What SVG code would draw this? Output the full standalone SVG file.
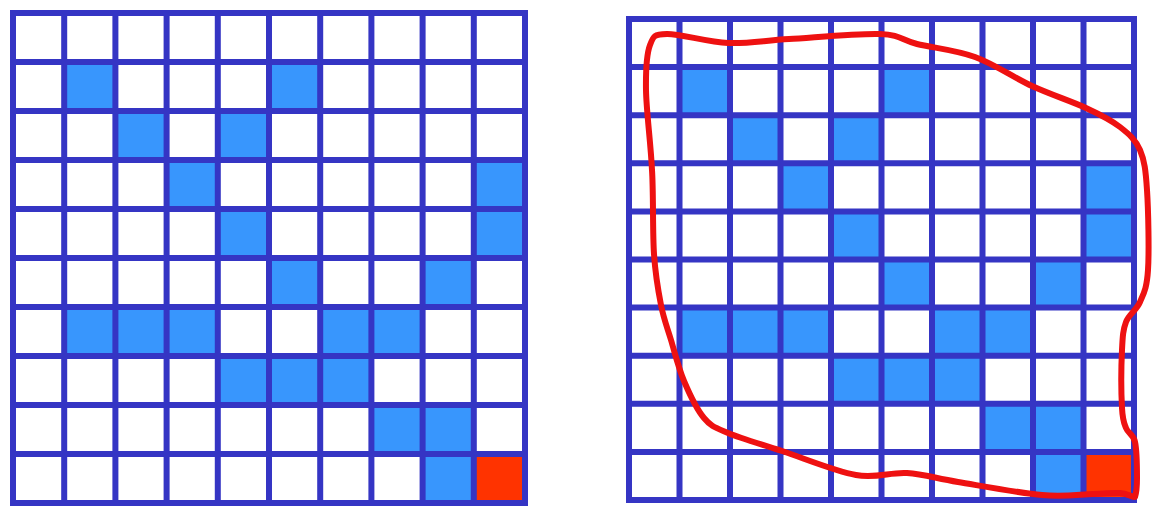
<svg xmlns="http://www.w3.org/2000/svg" width="1159" height="515" viewBox="0 0 1159 515">
<style>
.b{fill:#3896FD}
.r{fill:#FF3300}
.g{fill:none;stroke:#3535C4;stroke-width:6;stroke-linecap:square}
.lasso{fill:none;stroke:#EE1111;stroke-width:6;stroke-linejoin:round;stroke-linecap:round}
</style>
<rect width="1159" height="515" fill="#ffffff"/>
<g id="grid-left">
<rect class="b" x="64.2" y="62" width="51.2" height="49"/>
<rect class="b" x="269" y="62" width="51.2" height="49"/>
<rect class="b" x="115.4" y="111" width="51.2" height="49"/>
<rect class="b" x="217.8" y="111" width="51.2" height="49"/>
<rect class="b" x="166.6" y="160" width="51.2" height="49"/>
<rect class="b" x="473.8" y="160" width="51.2" height="49"/>
<rect class="b" x="217.8" y="209" width="51.2" height="49"/>
<rect class="b" x="473.8" y="209" width="51.2" height="49"/>
<rect class="b" x="269" y="258" width="51.2" height="49"/>
<rect class="b" x="422.6" y="258" width="51.2" height="49"/>
<rect class="b" x="64.2" y="307" width="153.6" height="49"/>
<rect class="b" x="320.2" y="307" width="102.4" height="49"/>
<rect class="b" x="217.8" y="356" width="153.6" height="49"/>
<rect class="b" x="371.4" y="405" width="102.4" height="49"/>
<rect class="b" x="422.6" y="454" width="51.2" height="49"/>
<rect class="r" x="473.8" y="454" width="51.2" height="49"/>
<path class="g" d="M13,13V503M64.2,13V503M115.4,13V503M166.6,13V503M217.8,13V503M269,13V503M320.2,13V503M371.4,13V503M422.6,13V503M473.8,13V503M525,13V503M13,13H525M13,62H525M13,111H525M13,160H525M13,209H525M13,258H525M13,307H525M13,356H525M13,405H525M13,454H525M13,503H525"/>
</g>
<g id="grid-right">
<rect class="b" x="679.5" y="67.1" width="50.5" height="48.1"/>
<rect class="b" x="881.5" y="67.1" width="50.5" height="48.1"/>
<rect class="b" x="730" y="115.2" width="50.5" height="48.1"/>
<rect class="b" x="831" y="115.2" width="50.5" height="48.1"/>
<rect class="b" x="780.5" y="163.3" width="50.5" height="48.1"/>
<rect class="b" x="1083.5" y="163.3" width="50.5" height="48.1"/>
<rect class="b" x="831" y="211.4" width="50.5" height="48.1"/>
<rect class="b" x="1083.5" y="211.4" width="50.5" height="48.1"/>
<rect class="b" x="881.5" y="259.5" width="50.5" height="48.1"/>
<rect class="b" x="1033" y="259.5" width="50.5" height="48.1"/>
<rect class="b" x="679.5" y="307.6" width="151.5" height="48.1"/>
<rect class="b" x="932" y="307.6" width="101" height="48.1"/>
<rect class="b" x="831" y="355.7" width="151.5" height="48.1"/>
<rect class="b" x="982.5" y="403.8" width="101" height="48.1"/>
<rect class="b" x="1033" y="451.9" width="50.5" height="48.1"/>
<rect class="r" x="1083.5" y="451.9" width="50.5" height="48.1"/>
<path class="g" d="M629,19V500M679.5,19V500M730,19V500M780.5,19V500M831,19V500M881.5,19V500M932,19V500M982.5,19V500M1033,19V500M1083.5,19V500M1134,19V500M629,19H1134M629,67.1H1134M629,115.2H1134M629,163.3H1134M629,211.4H1134M629,259.5H1134M629,307.6H1134M629,355.7H1134M629,403.8H1134M629,451.9H1134M629,500H1134"/>
</g>
<g id="connectors">
<path id="lasso" class="lasso" d="M652,170 C650.7,142.7 646.3,110.8 646,90 C645.7,69.2 646.5,54.3 650,45 C653.5,35.7 654,34.3 667,34 C680,33.7 707.7,42.2 728,43 C748.3,43.8 763.7,40.5 789,39 C814.3,37.5 858.7,33.2 880,34 C901.3,34.8 901.2,40.2 917,44 C932.8,47.8 955.8,50 975,57 C994.2,64 1013.5,77.5 1032,86 C1050.5,94.5 1071.3,101.2 1086,108 C1100.7,114.8 1111,120 1120,127 C1129,134 1135.5,139.5 1140,150 C1144.5,160.5 1145.7,170 1147,190 C1148.3,210 1149.2,251.3 1148,270 C1146.8,288.7 1143.7,293.3 1140,302 C1136.3,310.7 1129,314 1126,322 C1123,330 1122.7,335.7 1122,350 C1121.3,364.3 1121.3,395 1122,408 C1122.7,421 1123.8,422.3 1126,428 C1128.2,433.7 1133.2,433.7 1135,442 C1136.8,450.3 1137,468.8 1137,478 C1137,487.2 1136,494 1135,497 C1132,497 1127,493.5 1120,493 C1113,492.5 1106,493.7 1093,494 C1080,494.3 1064.5,497 1042,495 C1019.5,493 980.5,485.7 958,482 C935.5,478.3 924,474.2 907,473 C890,471.8 876.8,478.7 856,475 C835.2,471.3 803.3,458 782,451 C760.7,444 741,438.5 728,433 C715,427.5 711.3,426.7 704,418 C696.7,409.3 689.5,394 684,381 C678.5,368 674.8,352.7 671,340 C667.2,327.3 663.8,319.3 661,305 C658.2,290.7 655.5,276.5 654,254 C652.5,231.5 653.5,192.5 652,170 Z"/>
</g>
</svg>
